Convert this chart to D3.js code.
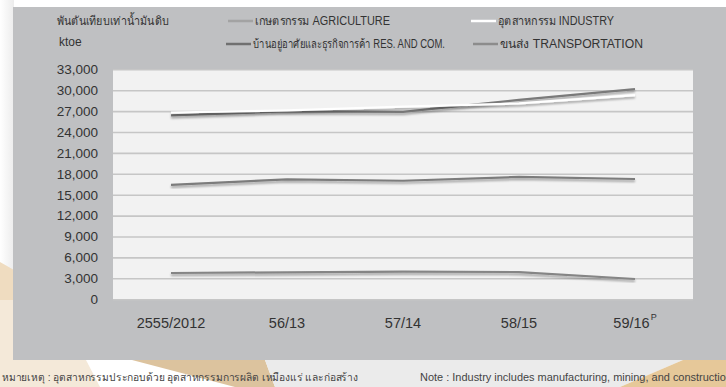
<!DOCTYPE html>
<html>
<head>
<meta charset="utf-8">
<script src="https://cdn.jsdelivr.net/npm/d3@7"></script>
<style>
  html, body { margin: 0; padding: 0; background: #ffffff; }
  svg { display: block; font-family: "Liberation Sans", "Noto Sans", Arial, sans-serif; }
</style>
</head>
<body>
<svg id="chart" width="726" height="387"></svg>
<script>
// Final energy consumption by economic sector (ktoe)
const categories = ["2555/2012", "56/13", "57/14", "58/15", "59/16"];
const agriculture    = [3760, 3860, 3950, 3900, 2900];
const industry       = [26800, 27100, 27650, 28100, 29300];
const resCom         = [16400, 17200, 17000, 17550, 17250];
const transportation = [26400, 26950, 26900, 28600, 30150];
const yTicks = [0, 3000, 6000, 9000, 12000, 15000, 18000, 21000, 24000, 27000, 30000, 33000];

const unitThai = "พันตันเทียบเท่าน้ำมันดิบ";
const unitEn = "ktoe";
const provisionalMark = "P";
const noteThai = "หมายเหตุ  :  อุตสาหกรรมประกอบด้วย อุตสาหกรรมการผลิต  เหมืองแร่ และก่อสร้าง";
const noteEn = "Note  :  Industry includes manufacturing, mining, and construction";

const series = [
  { name: "เกษตรกรรม AGRICULTURE", values: agriculture, color: "#858585", legend: "#a3a3a3", lx: 228, ly: 21, tw: 135 },
  { name: "อุตสาหกรรม INDUSTRY", values: industry, color: "#ffffff", legend: "#ffffff", lx: 471, ly: 21, tw: 116 },
  { name: "บ้านอยู่อาศัยและธุรกิจการค้า RES. AND COM.", values: resCom, color: "#7c7c7c", legend: "#707070", lx: 226, ly: 44, tw: 192 },
  { name: "ขนส่ง TRANSPORTATION", values: transportation, color: "#7a7a7a", legend: "#8c8c8c", lx: 473, ly: 44, tw: 143 }
];

const svg = d3.select("#chart");
const defs = svg.append("defs");

const shadow = defs.append("filter").attr("id", "lineShadow")
  .attr("x", "-5%").attr("y", "-50%").attr("width", "110%").attr("height", "200%");
shadow.append("feDropShadow").attr("dx", 0).attr("dy", 2).attr("stdDeviation", 1.3)
  .attr("flood-color", "#000").attr("flood-opacity", 0.35);

const fade = defs.append("linearGradient").attr("id", "leftFade")
  .attr("x1", 0).attr("x2", 1).attr("y1", 0).attr("y2", 0);
fade.append("stop").attr("offset", "0%").attr("stop-color", "#ffffff");
fade.append("stop").attr("offset", "100%").attr("stop-color", "#ececec");

// page decoration behind the panel
svg.append("rect").attr("x", 0).attr("y", 0).attr("width", 14).attr("height", 387).attr("fill", "url(#leftFade)");
svg.append("polygon").attr("points", "0,262 14,270 14,300 0,300").attr("fill", "#efdcc0");
svg.append("polygon").attr("points", "0,300 14,300 14,387 0,387").attr("fill", "#f4e9d9");
svg.append("polygon").attr("points", "14,360 86,360 100,387 14,387").attr("fill", "#f4e9d9");
svg.append("polygon").attr("points", "132,360 265,360 275,387 235,387").attr("fill", "#dcc39e");
svg.append("polygon").attr("points", "265,360 683,360 620,387 275,387").attr("fill", "#ebebeb");
svg.append("polygon").attr("points", "683,360 726,360 726,387 620,387").attr("fill", "#e6c899");

// grey panel
svg.append("rect").attr("x", 13).attr("y", 7).attr("width", 713).attr("height", 353).attr("fill", "#bfc0c2");

const plot = { left: 113, right: 693, top: 69.3, bottom: 299.2 };

const x = d3.scaleBand().domain(categories).range([plot.left, plot.right]);
const y = d3.scaleLinear().domain([0, 33000]).range([plot.bottom, plot.top]);
const cx = c => x(c) + x.bandwidth() / 2;

svg.append("rect")
  .attr("x", plot.left).attr("y", plot.top)
  .attr("width", plot.right - plot.left).attr("height", plot.bottom - plot.top)
  .attr("fill", "#f2f2f2");

// gridlines
const grid = svg.append("g").attr("transform", `translate(${plot.left},0)`)
  .call(d3.axisLeft(y).tickValues(yTicks).tickSize(-(plot.right - plot.left)).tickFormat(""));
grid.select(".domain").remove();
grid.selectAll("line").attr("stroke", "#c6c6c6").attr("stroke-width", 1.6);

// y axis labels
const yAxis = svg.append("g").attr("transform", "translate(98,0)")
  .call(d3.axisLeft(y).tickValues(yTicks).tickSize(0).tickPadding(0).tickFormat(d3.format(",")));
yAxis.select(".domain").remove();
yAxis.selectAll("text").attr("fill", "#333").attr("font-size", 13.5).attr("font-family", "Liberation Sans, Arial, sans-serif");

// x axis labels
const xAxis = svg.append("g").attr("transform", "translate(0,318)")
  .call(d3.axisBottom(x).tickSize(0).tickPadding(0));
xAxis.select(".domain").remove();
xAxis.selectAll("text").attr("fill", "#333").attr("font-size", 14.5).attr("dy", "0.7em");
xAxis.selectAll(".tick").filter(d => d === categories[categories.length - 1])
  .select("text").append("tspan")
  .attr("font-size", 9).attr("dy", "-0.9em").attr("dx", "1").text(provisionalMark);

// lines
const line = d3.line().x((d, i) => cx(categories[i])).y(d => y(d));
const drawOrder = [0, 2, 3, 1];
drawOrder.forEach(i => {
  const s = series[i];
  svg.append("path").datum(s.values)
    .attr("d", line)
    .attr("fill", "none")
    .attr("stroke", s.color)
    .attr("stroke-width", 2.2)
    .attr("stroke-linejoin", "round")
    .attr("filter", "url(#lineShadow)");
});

// unit labels
svg.append("text").attr("x", 57).attr("y", 25).attr("font-size", 12).attr("fill", "#333")
  .attr("textLength", 112).attr("lengthAdjust", "spacingAndGlyphs").text(unitThai);
svg.append("text").attr("x", 59).attr("y", 46).attr("font-size", 12).attr("fill", "#333").text(unitEn);

// legend
series.forEach(s => {
  svg.append("line")
    .attr("x1", s.lx).attr("x2", s.lx + 25).attr("y1", s.ly).attr("y2", s.ly)
    .attr("stroke", s.legend).attr("stroke-width", 2.5);
  svg.append("text").attr("x", s.lx + 27).attr("y", s.ly + 4)
    .attr("font-size", 12).attr("fill", "#333")
    .attr("textLength", s.tw).attr("lengthAdjust", "spacingAndGlyphs")
    .text(s.name);
});

// notes
svg.append("text").attr("x", 2).attr("y", 381).attr("font-size", 10.5).attr("fill", "#444")
  .attr("textLength", 356).attr("lengthAdjust", "spacingAndGlyphs").text(noteThai);
svg.append("text").attr("x", 420).attr("y", 381).attr("font-size", 10.5).attr("fill", "#444")
  .attr("textLength", 312).attr("lengthAdjust", "spacingAndGlyphs").text(noteEn);
</script>
</body>
</html>
